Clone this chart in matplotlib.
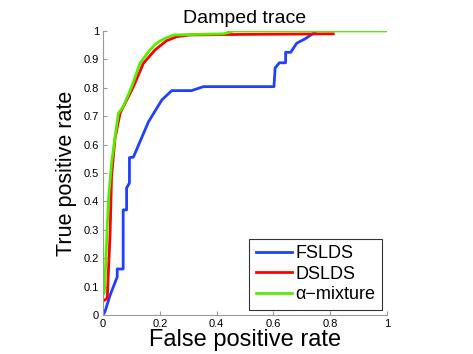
import matplotlib
matplotlib.use("Agg")
import matplotlib.pyplot as plt

plt.rcParams['font.family'] = ['Liberation Sans', 'DejaVu Sans']

# ROC curves
fslds_fpr = [0, 0.007, 0.025, 0.05, 0.05, 0.071, 0.071, 0.083, 0.083, 0.093, 0.093, 0.107,
             0.16, 0.207, 0.242, 0.312, 0.353, 0.602, 0.606, 0.621, 0.643, 0.643, 0.661,
             0.682, 0.711, 0.746]
fslds_tpr = [0, 0.012, 0.07, 0.134, 0.162, 0.162, 0.37, 0.37, 0.447, 0.465, 0.554, 0.556,
             0.68, 0.757, 0.79, 0.79, 0.804, 0.804, 0.87, 0.888, 0.888, 0.925, 0.925,
             0.957, 0.972, 0.995]

dslds_fpr = [0, 0.007, 0.015, 0.025, 0.03, 0.042, 0.06, 0.107, 0.142, 0.183, 0.224, 0.26,
             0.306, 0.5, 0.811]
dslds_tpr = [0.05, 0.053, 0.06, 0.29, 0.487, 0.62, 0.71, 0.804, 0.886, 0.933, 0.966, 0.98,
             0.986, 0.988, 0.99]

mix_fpr = [0, 0.005, 0.019, 0.03, 0.054, 0.071, 0.101, 0.13, 0.165, 0.189, 0.212, 0.248,
           0.424, 0.459, 1.0]
mix_tpr = [0.07, 0.08, 0.405, 0.535, 0.71, 0.733, 0.804, 0.886, 0.933, 0.957, 0.971, 0.986,
           0.99, 1.0, 1.0]

fig = plt.figure(figsize=(4.73, 3.54), dpi=100)
ax = fig.add_axes([0.2178, 0.1102, 0.6004, 0.8023])

ax.plot(fslds_fpr, fslds_tpr, color='#2040ff', lw=2, label='FSLDS')
ax.plot(dslds_fpr, dslds_tpr, color='#ff0000', lw=2, label='DSLDS')
ax.plot(mix_fpr, mix_tpr, color='#55ee00', lw=2, label='\u03b1\u2212mixture')

ax.set_xlim(0, 1)
ax.set_ylim(0, 1)
ax.set_xticks([0, 0.2, 0.4, 0.6, 0.8, 1])
ax.set_xticklabels(['0', '0.2', '0.4', '0.6', '0.8', '1'])
ax.set_yticks([0, 0.1, 0.2, 0.3, 0.4, 0.5, 0.6, 0.7, 0.8, 0.9, 1])
ax.set_yticklabels(['0', '0.1', '0.2', '0.3', '0.4', '0.5', '0.6', '0.7', '0.8', '0.9', '1'])

for s in ['top', 'right']:
    ax.spines[s].set_visible(False)
for s in ['left', 'bottom']:
    ax.spines[s].set_color('#999999')
ax.tick_params(direction='in', length=3, color='#999999', labelsize=8, pad=3)

ax.set_title('Damped trace', fontsize=14, pad=6)
ax.set_xlabel('False positive rate', fontsize=17, labelpad=0)
ax.set_ylabel('True positive rate', fontsize=15.5, labelpad=5)

leg = ax.legend(loc='lower right', fontsize=13, frameon=True, fancybox=False,
                edgecolor='black', handlelength=2.0, borderpad=0.35, labelspacing=0.2,
                handletextpad=0.2, borderaxespad=0.3)
leg.get_frame().set_linewidth(0.8)

fig.savefig('out.png', dpi=100)
